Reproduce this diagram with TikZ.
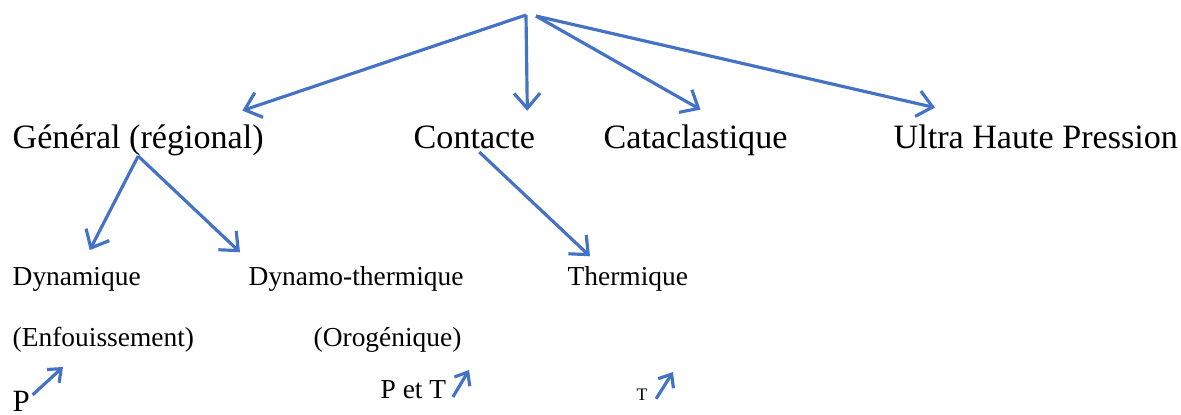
\documentclass[tikz,border=0pt]{standalone}
\usepackage{fontspec}
\setmainfont{Liberation Serif}
\usetikzlibrary{arrows.meta}
\definecolor{wordblue}{RGB}{68,114,196}

\begin{document}
\begin{tikzpicture}[x=0.01cm,y=-0.01cm,
  arr/.style={draw=wordblue,line width=0.9pt,-{Straight Barb[length=1.5mm,width=2.6mm]}},
  smallarr/.style={draw=wordblue,line width=0.9pt,-{Straight Barb[length=1.1mm,width=1.8mm]}},
  big/.style={inner sep=0pt,anchor=base west,font=\fontsize{9.7}{12}\selectfont},
  txt/.style={inner sep=0pt,anchor=base west,font=\fontsize{7.8}{10}\selectfont}]
   \useasboundingbox (0,0) rectangle (1181,415);

   % top of the tree
   \coordinate (root) at (526,15);
   \coordinate (rootr) at (536,16);

   % first row
   \node[big] (general) at (12,148) {Général (régional)};
   \node[big] (contacte) at (413,148) {Contacte};
   \node[big] (catacl) at (603,148) {Cataclastique};
   \node[big] (ultra) at (893,148) {Ultra Haute Pression};

   % second row
   \node[txt] (dyn) at (12,285) {Dynamique};
   \node[txt] (dynth) at (248,285) {Dynamo-thermique};
   \node[txt] (therm) at (567,285) {Thermique};

   % third row
   \node[txt] (enf) at (12,346) {(Enfouissement)};
   \node[txt] (oro) at (313,346) {(Orogénique)};

   % factors
   \node[txt,font=\fontsize{8.8}{10}\selectfont] (p) at (12,411) {P};
   \node[txt] (pet) at (380,398) {P et T};
   \node[txt,font=\fontsize{5}{6}\selectfont] (t) at (636,400) {T};
   \coordinate (pend) at (63,367);
   \coordinate (petend) at (469,370);
   \coordinate (tend) at (673,372);

   \draw[arr] (root) -- ([shift={(-22,-13)}]general.north east);
   \draw[arr] (root) -- ([shift={(53,-14)}]contacte.north);
   \draw[arr] (rootr) -- ([shift={(5,-14)}]catacl.north);
   \draw[arr] (rootr) -- ([shift={(42,-16)}]ultra.north west);

   \draw[arr] (general.south) -- ([shift={(13,-16)}]dyn.north);
   \draw[arr] (general.south) -- ([shift={(-8,-13)}]dynth.north west);
   \draw[arr] ([shift={(5,3)}]contacte.south) -- ([shift={(23,-9)}]therm.north west);

   \draw[smallarr] ([shift={(2,-6)}]p.east) -- (pend);
   \draw[smallarr] ([shift={(6,-2)}]pet.south east) -- (petend);
   \draw[smallarr] ([shift={(8,-2)}]t.south east) -- (tend);
\end{tikzpicture}
\end{document}
